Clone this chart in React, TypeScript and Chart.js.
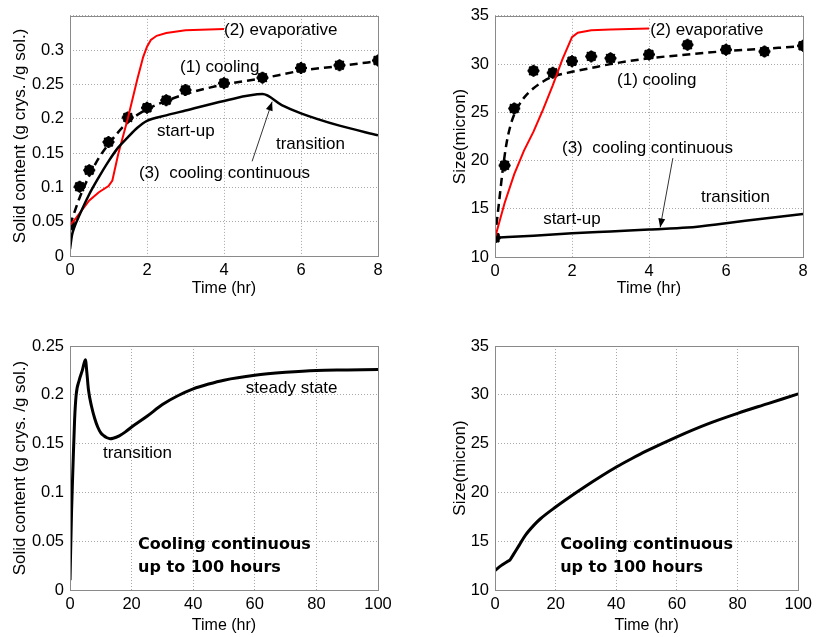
import React, { useEffect, useRef } from "react";
import { Chart, registerables } from "chart.js";

Chart.register(...registerables);

const FONT = "'Liberation Sans', Arial, Helvetica, sans-serif";
const BOLD_FONT = "'DejaVu Sans', Verdana, sans-serif";

// ---------- Panel 1: solid content, 0-8 hr ----------
const p1EvapT = [0, 0.15, 0.3, 0.5, 0.75, 1.0, 1.1, 1.25, 1.5, 1.75, 1.9, 2.0, 2.1, 2.25, 2.5, 3.0, 4.0];
const p1EvapY = [0.045, 0.055, 0.066, 0.081, 0.093, 0.102, 0.11, 0.148, 0.2, 0.258, 0.29, 0.305, 0.315, 0.321, 0.325, 0.329, 0.331];
const p1CoolT = [0, 0.25, 0.5, 0.75, 1, 1.5, 2, 2.5, 3, 4, 5, 6, 7, 8];
const p1CoolY = [0.045, 0.085, 0.117, 0.143, 0.163, 0.195, 0.214, 0.226, 0.236, 0.25, 0.259, 0.27, 0.277, 0.284];
const p1ExpT = [0, 0.25, 0.5, 1, 1.5, 2, 2.5, 3, 4, 5, 6, 7, 8];
const p1ExpY = [0.045, 0.101, 0.125, 0.166, 0.202, 0.216, 0.227, 0.242, 0.252, 0.26, 0.274, 0.278, 0.285];
const p1ContT = [0, 0.05, 0.1, 0.25, 0.5, 0.75, 1, 1.25, 1.5, 1.75, 2, 2.5, 3, 4, 5, 5.5, 6, 7, 8];
const p1ContY = [0.01, 0.03, 0.04, 0.06, 0.09, 0.115, 0.138, 0.158, 0.173, 0.187, 0.197, 0.205, 0.212, 0.226, 0.236, 0.22, 0.208, 0.19, 0.176];

// ---------- Panel 2: size, 0-8 hr ----------
const p2EvapT = [0, 0.25, 0.5, 0.75, 1.0, 1.25, 1.5, 1.75, 2.0, 2.15, 2.5, 3, 4];
const p2EvapY = [12, 15.6, 18.6, 21, 23, 25.3, 27.8, 30.5, 32.8, 33.25, 33.5, 33.6, 33.7];
const p2CoolT = [0, 0.1, 0.2, 0.3, 0.4, 0.5, 0.6, 0.75, 1, 1.25, 1.5, 2, 2.5, 3, 4, 5, 6, 7, 8];
const p2CoolY = [12, 15.5, 19, 21.8, 23.6, 24.8, 25.6, 26.5, 27.5, 28.2, 28.7, 29.2, 29.6, 30, 30.6, 31, 31.35, 31.6, 31.85];
const p2ExpT = [0, 0.25, 0.5, 1, 1.5, 2, 2.5, 3, 4, 5, 6, 7, 8];
const p2ExpY = [12, 19.5, 25.4, 29.3, 29.1, 30.3, 30.8, 30.6, 31.0, 32.0, 31.5, 31.3, 31.9];
const p2ContT = [0, 1, 2, 3, 4, 5, 6, 7, 8];
const p2ContY = [12, 12.2, 12.45, 12.65, 12.85, 13.05, 13.5, 14, 14.45];

// ---------- Panel 3: solid content, 0-100 hr ----------
const p3T = [0, 0.5, 1, 1.5, 2, 3, 4, 5, 5.5, 6, 7, 8, 9, 10, 11, 12, 13, 14, 16, 18, 20, 25, 30, 35, 40, 45, 50, 60, 70, 80, 90, 100];
const p3Y = [0.01, 0.08, 0.13, 0.175, 0.2, 0.215, 0.225, 0.236, 0.222, 0.205, 0.188, 0.176, 0.167, 0.161, 0.158, 0.156, 0.155, 0.1555, 0.158, 0.162, 0.167, 0.178, 0.19, 0.199, 0.206, 0.211, 0.215, 0.22, 0.223, 0.225, 0.2255, 0.226];

// ---------- Panel 4: size, 0-100 hr ----------
const p4T = [0, 2, 4, 5, 6, 8, 10, 13, 15, 20, 25, 30, 35, 40, 45, 50, 60, 70, 80, 90, 100];
const p4Y = [12, 12.5, 12.9, 13.1, 13.6, 14.6, 15.6, 16.7, 17.3, 18.5, 19.6, 20.65, 21.65, 22.6, 23.45, 24.25, 25.7, 27.0, 28.1, 29.1, 30.1];

// ---------- annotation texts (data coordinates) ----------
type Note = { text: string; x: number; y: number; bold?: boolean };
type Arrow = { x1: number; y1: number; x2: number; y2: number };

const p1Notes: Note[] = [
  { text: "(2) evaporative", x: 4.0, y: 0.329 },
  { text: "(1) cooling", x: 2.86, y: 0.275 },
  { text: "start-up", x: 2.26, y: 0.1815 },
  { text: "transition", x: 5.35, y: 0.163 },
  { text: "(3)  cooling continuous", x: 1.79, y: 0.121 },
];
const p1Arrows: Arrow[] = [{ x1: 4.73, y1: 0.138, x2: 5.25, y2: 0.225 }];

const p2Notes: Note[] = [
  { text: "(2) evaporative", x: 4.03, y: 33.5 },
  { text: "(1) cooling", x: 3.17, y: 28.3 },
  { text: "(3)  cooling continuous", x: 1.74, y: 21.3 },
  { text: "transition", x: 5.35, y: 16.15 },
  { text: "start-up", x: 1.25, y: 13.9 },
];
const p2Arrows: Arrow[] = [{ x1: 4.62, y1: 20.25, x2: 4.29, y2: 13.07 }];

const p3Notes: Note[] = [
  { text: "steady state", x: 57.1, y: 0.207 },
  { text: "transition", x: 10.7, y: 0.14 },
  { text: "Cooling continuous", x: 22.1, y: 0.046, bold: true },
  { text: "up to 100 hours", x: 22.1, y: 0.0225, bold: true },
];
const p4Notes: Note[] = [
  { text: "Cooling continuous", x: 21.5, y: 14.6, bold: true },
  { text: "up to 100 hours", x: 21.5, y: 12.25, bold: true },
];

const pts = (xs: number[], ys: number[]) => xs.map((x, i) => ({ x, y: ys[i] }));

function overlay(notes: Note[], arrows: Arrow[]) {
  return {
    id: "overlay",
    afterDatasetsDraw(chart: any) {
      const { ctx, chartArea: a, scales } = chart;
      const xs = scales.x;
      const ys = scales.y;
      ctx.save();
      ctx.strokeStyle = "#8a8a8a";
      ctx.lineWidth = 1;
      ctx.setLineDash([]);
      ctx.strokeRect(Math.round(a.left) + 0.5, Math.round(a.top) + 0.5, Math.round(a.right - a.left), Math.round(a.bottom - a.top));
      ctx.fillStyle = "#000";
      ctx.textAlign = "left";
      ctx.textBaseline = "middle";
      for (const n of notes) {
        ctx.font = n.bold ? `bold 16px ${BOLD_FONT}` : `17px ${FONT}`;
        ctx.fillText(n.text, xs.getPixelForValue(n.x), ys.getPixelForValue(n.y));
      }
      for (const ar of arrows) {
        const x1 = xs.getPixelForValue(ar.x1), y1 = ys.getPixelForValue(ar.y1);
        const x2 = xs.getPixelForValue(ar.x2), y2 = ys.getPixelForValue(ar.y2);
        ctx.strokeStyle = "#333";
        ctx.lineWidth = 1;
        ctx.beginPath();
        ctx.moveTo(x1, y1);
        ctx.lineTo(x2, y2);
        ctx.stroke();
        const ang = Math.atan2(y2 - y1, x2 - x1);
        const L = 9, W = 3.5;
        ctx.fillStyle = "#000";
        ctx.beginPath();
        ctx.moveTo(x2, y2);
        ctx.lineTo(x2 - L * Math.cos(ang) + W * Math.sin(ang), y2 - L * Math.sin(ang) - W * Math.cos(ang));
        ctx.lineTo(x2 - L * Math.cos(ang) - W * Math.sin(ang), y2 - L * Math.sin(ang) + W * Math.cos(ang));
        ctx.closePath();
        ctx.fill();
      }
      ctx.restore();
    },
  };
}

type PanelProps = {
  left: number; top: number; width: number; height: number;
  padTop: number; padRight: number; yWidth: number; xHeight: number;
  xMax: number; xStep: number; yMin: number; yMax: number; yStep: number;
  yLabelMax: number; yTitle: string; yTitlePad: number; xTitlePad: number;
  datasets: any[]; notes: Note[]; arrows: Arrow[];
};

function fmt(v: number) {
  return String(Number(v.toFixed(3)));
}

function Panel(p: PanelProps) {
  const ref = useRef<HTMLCanvasElement>(null);
  useEffect(() => {
    if (!ref.current) return;
    const chart = new Chart(ref.current, {
      type: "line",
      data: { datasets: p.datasets },
      options: {
        responsive: false,
        animation: false,
        layout: { padding: { top: p.padTop, right: p.padRight, left: 0, bottom: 0 } },
        plugins: { legend: { display: false }, tooltip: { enabled: false } },
        elements: { point: { radius: 0 } },
        scales: {
          x: {
            type: "linear",
            min: 0,
            max: p.xMax,
            afterFit: (s: any) => { s.height = p.xHeight; },
            ticks: {
              stepSize: p.xStep,
              autoSkip: false,
              maxRotation: 0,
              padding: 5,
              color: "#000",
              font: { family: FONT, size: 16.5 },
              callback: (v: any) => fmt(Number(v)),
            },
            grid: { color: "#a8a8a8", lineWidth: 1, drawTicks: false },
            border: { display: false, dash: [1, 2] },
            title: {
              display: true,
              text: "Time (hr)",
              color: "#000",
              font: { family: FONT, size: 16 },
              padding: { top: 0, bottom: p.xTitlePad },
            },
          },
          y: {
            type: "linear",
            min: p.yMin,
            max: p.yMax,
            afterFit: (s: any) => { s.width = p.yWidth; },
            ticks: {
              stepSize: p.yStep,
              autoSkip: false,
              padding: 6,
              color: "#000",
              font: { family: FONT, size: 16.5 },
              callback: (v: any) => (Number(v) > p.yLabelMax + 1e-9 ? "" : fmt(Number(v))),
            },
            grid: { color: "#a8a8a8", lineWidth: 1, drawTicks: false },
            border: { display: false, dash: [1, 2] },
            title: {
              display: true,
              text: p.yTitle,
              color: "#000",
              font: { family: FONT, size: 17 },
              padding: { top: p.yTitlePad, bottom: 0 },
            },
          },
        },
      },
      plugins: [overlay(p.notes, p.arrows)],
    } as any);
    return () => chart.destroy();
  }, []);
  return (
    <canvas
      ref={ref}
      width={p.width}
      height={p.height}
      style={{ position: "absolute", left: p.left, top: p.top, width: p.width, height: p.height, display: "block" }}
    />
  );
}

const redLine = (data: any) => ({
  data, borderColor: "#ff0000", borderWidth: 2, tension: 0, pointRadius: 0, fill: false,
});
const dashLine = (data: any) => ({
  data, borderColor: "#000", borderWidth: 2.5, borderDash: [8, 5], cubicInterpolationMode: "monotone", pointRadius: 0, fill: false,
});
const solidLine = (data: any, w = 2.5) => ({
  data, borderColor: "#000", borderWidth: w, cubicInterpolationMode: "monotone", pointRadius: 0, fill: false,
});
const dotMarks = (data: any) => ({
  data, showLine: false, pointStyle: "circle", pointRadius: 5, pointBackgroundColor: "#000", pointBorderColor: "#000", pointBorderWidth: 1,
});
const starMarks = (data: any) => ({
  data, showLine: false, pointStyle: "star", pointRadius: 6, pointBorderColor: "#000", pointBackgroundColor: "#000", pointBorderWidth: 2,
});

export default function App() {
  return (
    <div style={{ position: "fixed", left: 0, top: 0, width: 817, height: 637, background: "#fff", overflow: "hidden" }}>
      <Panel
        left={0} top={0} width={408} height={310}
        padTop={13} padRight={30} yWidth={70} xHeight={54}
        xMax={8} xStep={2} yMin={0} yMax={0.35} yStep={0.05} yLabelMax={0.3}
        yTitle="Solid content (g crys. /g sol.)" yTitlePad={10} xTitlePad={12}
        datasets={[
          solidLine(pts(p1ContT, p1ContY)),
          redLine(pts(p1EvapT, p1EvapY)),
          dashLine(pts(p1CoolT, p1CoolY)),
          dotMarks(pts(p1ExpT, p1ExpY)),
          starMarks(pts(p1ExpT, p1ExpY)),
        ]}
        notes={p1Notes} arrows={p1Arrows}
      />
      <Panel
        left={408} top={0} width={409} height={310}
        padTop={13} padRight={14} yWidth={87} xHeight={53}
        xMax={8} xStep={2} yMin={10} yMax={35} yStep={5} yLabelMax={35}
        yTitle="Size(micron)" yTitlePad={42} xTitlePad={12}
        datasets={[
          solidLine(pts(p2ContT, p2ContY)),
          redLine(pts(p2EvapT, p2EvapY)),
          dashLine(pts(p2CoolT, p2CoolY)),
          dotMarks(pts(p2ExpT, p2ExpY)),
          starMarks(pts(p2ExpT, p2ExpY)),
        ]}
        notes={p2Notes} arrows={p2Arrows}
      />
      <Panel
        left={0} top={320} width={408} height={317}
        padTop={26} padRight={30} yWidth={70} xHeight={47}
        xMax={100} xStep={20} yMin={0} yMax={0.25} yStep={0.05} yLabelMax={0.25}
        yTitle="Solid content (g crys. /g sol.)" yTitlePad={10} xTitlePad={2}
        datasets={[solidLine(pts(p3T, p3Y), 3)]}
        notes={p3Notes} arrows={[]}
      />
      <Panel
        left={408} top={320} width={409} height={317}
        padTop={26} padRight={15} yWidth={87} xHeight={47}
        xMax={100} xStep={20} yMin={10} yMax={35} yStep={5} yLabelMax={35}
        yTitle="Size(micron)" yTitlePad={42} xTitlePad={2}
        datasets={[solidLine(pts(p4T, p4Y), 3)]}
        notes={p4Notes} arrows={[]}
      />
    </div>
  );
}
